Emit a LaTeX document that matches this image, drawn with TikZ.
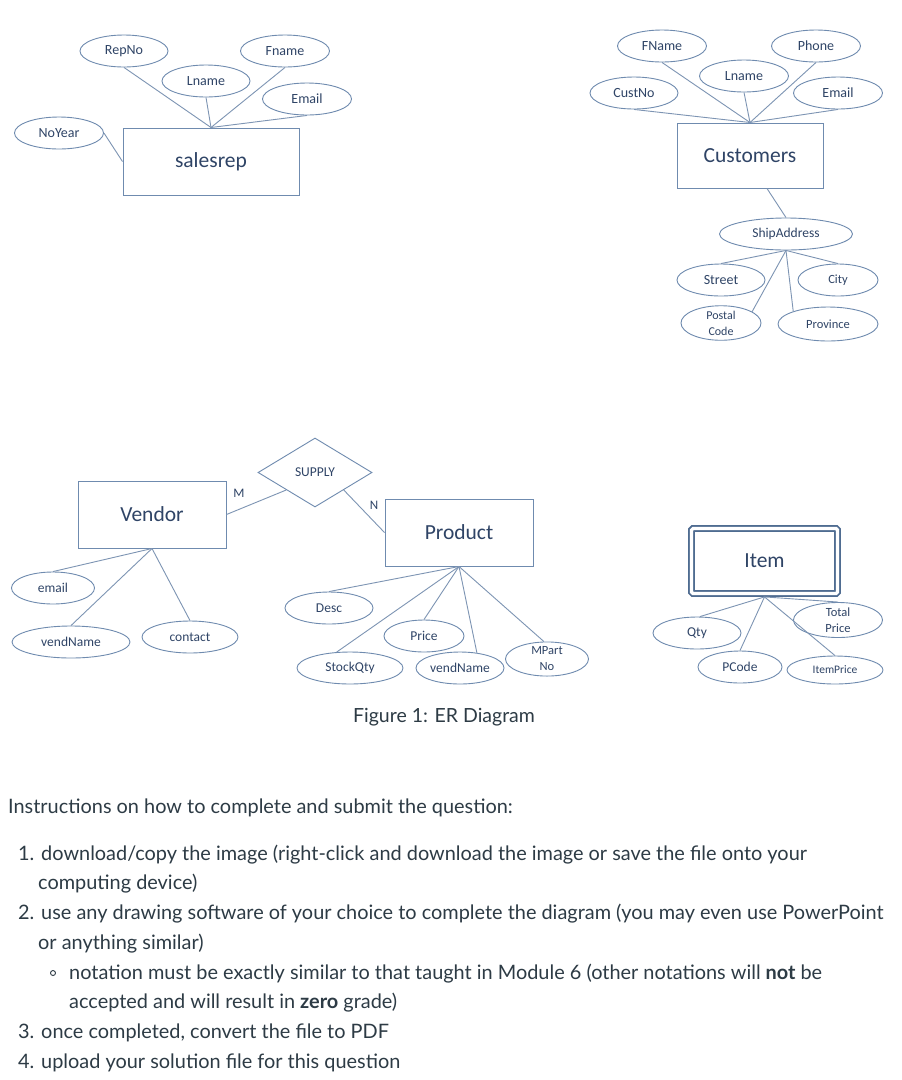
\documentclass[tikz,border=0pt]{standalone}
\usepackage{fontspec}
\setmainfont{Lato}
\newfontfamily\erfont{Carlito}
\usetikzlibrary{shapes.geometric}
\definecolor{strokec}{HTML}{6F8BAF}
\definecolor{linec}{HTML}{7D94B3}
\definecolor{erText}{HTML}{2F4466}
\definecolor{insText}{HTML}{2D3B45}
\definecolor{itemc}{HTML}{4F6C91}
\newcommand{\erfs}[2]{\fontsize{#1}{#2}\selectfont}
\tikzset{
  attr/.style={ellipse, draw=strokec, line width=0.9pt, inner sep=0pt, text=erText, align=center, minimum height=32pt, font=\erfont\erfs{14}{16}},
  entity/.style={rectangle, draw=strokec, line width=1pt, inner sep=0pt, text=erText, font=\erfont\erfs{21.5}{24}},
  conn/.style={draw=linec, line width=0.9pt},
  card/.style={text=erText, font=\erfont\erfs{13}{15}, inner sep=0pt},
  insline/.style={anchor=base west, inner sep=0pt, text=insText, font=\erfs{19.9}{22}},
}
\begin{document}
\begin{tikzpicture}[x=1pt,y=-1pt]
\useasboundingbox[fill=white] (0,0) rectangle (902,1080);

% ---------- salesrep ----------
\node[attr, minimum width=88pt] (repno) at (124,51) {RepNo};
\node[attr, minimum width=89pt] (fname) at (285,51) {Fname};
\node[attr, minimum width=88pt] (lname) at (206,81) {Lname};
\node[attr, minimum width=89pt] (semail) at (307,99) {Email};
\node[attr, minimum width=89pt] (noyear) at (59,133) {NoYear};
\node[entity, minimum width=176pt, minimum height=67pt] (sr) at (211,161.5) {salesrep};
\draw[conn] (repno.south) -- (sr.north);
\draw[conn] (lname.south) -- (sr.north);
\draw[conn] (fname.south) -- (sr.north);
\draw[conn] (semail.south) -- (sr.north);
\draw[conn] (noyear.east) -- (sr.west);

% ---------- customers ----------
\node[attr, minimum width=89pt] (cfname) at (662,46) {FName};
\node[attr, minimum width=89pt] (phone) at (816,46) {Phone};
\node[attr, minimum width=89pt] (clname) at (744,76) {Lname};
\node[attr, minimum width=88pt] (custno) at (634,93) {CustNo};
\node[attr, minimum width=89pt] (cemail) at (838,93) {Email};
\node[entity, minimum width=146pt, minimum height=65pt] (cust) at (750,155.5) {Customers};
\draw[conn] (cfname.south) -- (cust.north);
\draw[conn] (phone.south) -- (cust.north);
\draw[conn] (clname.south) -- (cust.north);
\draw[conn] (custno.south) -- (cust.north);
\draw[conn] (cemail.south) -- (cust.north);

\node[attr, minimum width=133pt, font=\erfont\erfs{13.5}{16}] (ship) at (786,234) {ShipAddress};
\draw[conn] ([xshift=17pt]cust.south) -- (ship.north);
\node[attr, minimum width=88pt] (street) at (721,280) {Street};
\node[attr, minimum width=80pt, font=\erfont\erfs{12.5}{16}] (city) at (838,280) {City};
\node[attr, minimum width=80pt, minimum height=34pt, font=\erfont\erfs{12}{16}] (postal) at (721,323) {Postal\\Code};
\node[attr, minimum width=100pt, minimum height=34pt, font=\erfont\erfs{12.5}{16}] (prov) at (828,324) {Province};
\draw[conn] (street.north) -- (ship.south);
\draw[conn] (city.north) -- (ship.south);
\draw[conn] (postal.20) -- (ship.south);
\draw[conn] (prov.160) -- (ship.south);

% ---------- vendor / supply / product ----------
\node[entity, minimum width=148pt, minimum height=67pt] (vendor) at (152,514.5) {Vendor};
\node[diamond, draw=strokec, line width=0.9pt, aspect=1.65, minimum width=114pt, minimum height=69pt, inner sep=0pt, text=erText, font=\erfont\erfs{13.5}{16}] (supply) at (315,472.5) {SUPPLY};
\node[entity, minimum width=148pt, minimum height=67pt] (product) at (459,532.5) {Product};
\draw[conn] (vendor.east) -- (supply.south west);
\draw[conn] (supply.south east) -- (product.west);
\node[card] (mlbl) at (239,493) {M};
\node[card] (nlbl) at (374,505) {N};

\node[attr, minimum width=83pt, font=\erfont\erfs{13.5}{16}] (vemail) at (53,588) {email};
\node[attr, minimum width=118pt, font=\erfont\erfs{13.5}{16}] (vname) at (71,642) {vendName};
\node[attr, minimum width=96pt, font=\erfont\erfs{13.5}{16}] (contact) at (190,637) {contact};
\draw[conn] (vemail.north) -- (vendor.south);
\draw[conn] (vname.north) -- (vendor.south);
\draw[conn] (contact.north) -- (vendor.south);

\node[attr, minimum width=88pt, font=\erfont\erfs{13.5}{16}] (desc) at (329,608) {Desc};
\node[attr, minimum width=80pt, font=\erfont\erfs{13.5}{16}] (price) at (424,636) {Price};
\node[attr, minimum width=106pt, font=\erfont\erfs{13.5}{16}] (stock) at (350,668) {StockQty};
\node[attr, minimum width=88pt, font=\erfont\erfs{13.5}{16}] (pvend) at (460,668) {vendName};
\node[attr, minimum width=83pt, minimum height=34pt, font=\erfont\erfs{12.5}{16}] (mpart) at (547,659) {MPart\\No};
\draw[conn] (desc.north) -- (product.south);
\draw[conn] (price.north) -- (product.south);
\draw[conn] (stock.130) -- (product.south);
\draw[conn] (pvend.42) -- (product.south);
\draw[conn] (mpart.100) -- (product.south);

% ---------- item ----------
\node[rectangle, draw=itemc, line width=1.8pt, double, double distance=3.2pt, rounded corners=1.5pt, inner sep=0pt, outer sep=3.4pt, minimum width=146pt, minimum height=65pt, text=erText, font=\erfont\erfs{21.5}{24}] (item) at (764.5,561) {Item};
\node[attr, minimum width=88pt, font=\erfont\erfs{13.5}{16}] (qty) at (697,633) {Qty};
\node[attr, minimum width=89pt, minimum height=34pt, font=\erfont\erfs{12.5}{16}] (tprice) at (838,620) {Total\\Price};
\node[attr, minimum width=84pt, font=\erfont\erfs{13.5}{16}] (pcode) at (740,667) {PCode};
\node[attr, minimum width=96pt, minimum height=28pt, font=\erfont\erfs{11.5}{14}] (iprice) at (835,670) {ItemPrice};
\draw[conn] (qty.80) -- (item.south);
\draw[conn] (tprice.north) -- (item.south);
\draw[conn] (pcode.north) -- (item.south);
\draw[conn] (iprice.north) -- (item.south);

% ---------- caption ----------
\node[inner sep=0pt, text=insText, font=\erfs{19.5}{22}] (caption) at (444,717) {Figure 1: ER Diagram};

% ---------- instructions ----------
\node[insline] (ins0) at (8,813) {Instructions on how to complete and submit the question:};
\node[insline] (ins1) at (18,860) {1. download/copy the image (right-click and download the image or save the file onto your};
\node[insline] (ins1b) at (38,889) {computing device)};
\node[insline] (ins2) at (18,919) {2. use any drawing software of your choice to complete the diagram (you may even use PowerPoint};
\node[insline] (ins2b) at (38,949) {or anything similar)};
\node[circle, draw=insText, line width=0.9pt, minimum size=5pt, inner sep=0pt] (bullet) at (53,973) {};
\node[insline] (ins3) at (69,979) {notation must be exactly similar to that taught in Module 6 (other notations will \textbf{not} be};
\node[insline] (ins3b) at (69,1008) {accepted and will result in \textbf{zero} grade)};
\node[insline] (ins4) at (18,1038) {3. once completed, convert the file to PDF};
\node[insline] (ins5) at (18,1068) {4. upload your solution file for this question};
\end{tikzpicture}
\end{document}
